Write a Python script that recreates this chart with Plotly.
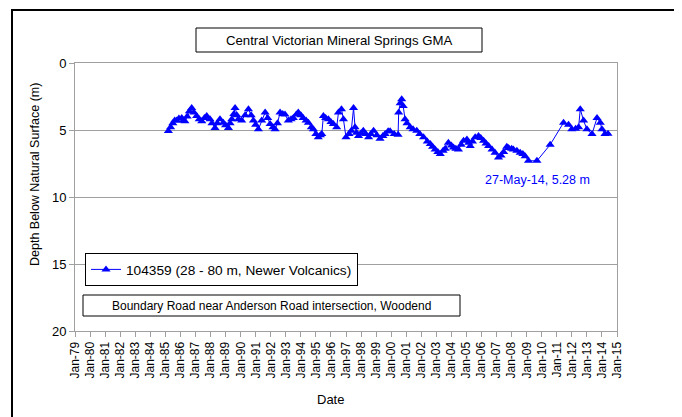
import pandas as pd
import plotly.graph_objects as go

# Decimal-year sample times and depth below natural surface (m)
years = [
    1985.20, 1985.35, 1985.50, 1985.62, 1985.75, 1985.90, 1986.09, 1986.20, 1986.30, 1986.45,
    1986.60, 1986.75, 1986.90, 1987.08, 1987.25, 1987.42, 1987.60, 1987.75, 1987.97, 1988.10,
    1988.30, 1988.45, 1988.63, 1988.85, 1989.00, 1989.19, 1989.30, 1989.41, 1989.55, 1989.63,
    1989.75, 1989.85, 1990.07, 1990.30, 1990.52, 1990.70, 1990.85, 1991.00, 1991.18, 1991.40,
    1991.63, 1991.80, 1991.96, 1992.15, 1992.29, 1992.45, 1992.62, 1992.80, 1992.95, 1993.17,
    1993.35, 1993.50, 1993.70, 1993.83, 1994.00, 1994.15, 1994.35, 1994.50, 1994.70, 1994.83,
    1995.00, 1995.16, 1995.30, 1995.39, 1995.50, 1995.65, 1995.83, 1996.00, 1996.16, 1996.38,
    1996.50, 1996.70, 1996.83, 1997.00, 1997.20, 1997.35, 1997.50, 1997.60, 1997.70, 1997.83,
    1998.00, 1998.15, 1998.30, 1998.50, 1998.65, 1998.83, 1999.05, 1999.26, 1999.45, 1999.60,
    1999.80, 1999.93, 2000.20, 2000.46, 2000.50, 2000.60, 2000.70, 2000.80, 2000.92, 2001.05,
    2001.26, 2001.45, 2001.70, 2001.90, 2002.15, 2002.40, 2002.60, 2002.75, 2002.92, 2003.10,
    2003.26, 2003.45, 2003.59, 2003.80, 2004.00, 2004.14, 2004.30, 2004.47, 2004.65, 2004.81,
    2005.03, 2005.15, 2005.25, 2005.40, 2005.58, 2005.80, 2005.95, 2006.14, 2006.30, 2006.47,
    2006.70, 2006.90, 2007.13, 2007.30, 2007.47, 2007.68, 2007.80, 2008.00, 2008.12, 2008.35,
    2008.57, 2008.75, 2008.90, 2009.12, 2009.68, 2010.56, 2011.45, 2011.78, 2012.00, 2012.25,
    2012.45, 2012.56, 2012.78, 2013.00, 2013.34, 2013.67, 2013.89, 2014.00, 2014.20, 2014.40,
]
depths = [
    5.07, 4.80, 4.50, 4.30, 4.30, 4.15, 4.10, 4.30, 4.35, 4.00,
    3.60, 3.35, 3.70, 3.95, 4.20, 4.35, 4.10, 3.95, 4.20, 4.50,
    4.85, 4.50, 4.20, 4.45, 4.65, 4.85, 4.50, 4.20, 3.80, 3.35,
    3.90, 4.20, 4.30, 3.90, 3.45, 3.90, 4.30, 4.60, 4.95, 4.30,
    3.70, 4.10, 4.55, 4.80, 4.95, 4.50, 3.70, 3.80, 3.85, 4.30,
    4.20, 4.10, 3.85, 3.70, 3.90, 4.10, 4.30, 4.45, 4.80, 4.95,
    5.30, 5.55, 5.40, 5.30, 3.95, 4.10, 4.20, 4.40, 4.55, 4.80,
    3.70, 3.45, 4.20, 5.55, 5.30, 5.05, 3.35, 4.80, 5.20, 5.45,
    5.25, 5.05, 5.30, 5.55, 5.30, 5.05, 5.40, 5.65, 5.45, 5.30,
    5.10, 5.10, 5.30, 5.35, 3.70, 3.00, 2.70, 3.20, 4.20, 4.50,
    4.80, 4.95, 5.05, 5.30, 5.55, 5.85, 6.05, 6.25, 6.45, 6.65,
    6.80, 6.55, 6.40, 5.95, 6.15, 6.30, 6.40, 6.45, 6.10, 5.80,
    5.70, 5.95, 6.20, 5.85, 5.55, 5.45, 5.60, 5.80, 6.00, 6.20,
    6.45, 6.70, 7.05, 6.90, 6.65, 6.25, 6.35, 6.40, 6.45, 6.55,
    6.70, 6.80, 6.95, 7.30, 7.30, 6.10, 4.45, 4.60, 4.95, 4.90,
    4.80, 3.45, 4.30, 4.95, 5.30, 4.10, 4.45, 4.95, 5.30, 5.28,
]

series_name = "104359 (28 - 80 m, Newer Volcanics)"
title_text = "Central Victorian Mineral Springs GMA"
site_text = "Boundary Road near Anderson Road intersection, Woodend"
last_label = "27-May-14, 5.28 m"


def to_date(y):
    yr = int(y)
    return pd.Timestamp(year=yr, month=1, day=1) + pd.Timedelta(days=(y - yr) * 365.25)


dates = [to_date(y) for y in years]

FONT = "Liberation Sans, Arial, sans-serif"
BLUE = "#0000FF"
GRID = "#A0A0A0"

fig = go.Figure()
fig.add_trace(go.Scatter(
    x=dates, y=depths, mode="lines+markers", name=series_name,
    line=dict(color=BLUE, width=1),
    marker=dict(symbol="triangle-up", size=8, color=BLUE),
))

OFF = 8  # page body margin offset
W, H = 682, 417
# plot area in screen pixels (reference)
PL, PR, PT, PB = 75, 617, 63, 331
L = PL - OFF
T = PT - OFF
R = W - (PR - OFF)
B = H - (PB - OFF)
pw, ph = PR - PL, PB - PT


def px(x):
    return (x - PL) / pw


def py(y):
    return (PB - y) / ph


shapes = [
    # outer chart border
    dict(type="rect", xref="paper", yref="paper", x0=px(12), x1=px(676), y0=py(430), y1=py(10),
         line=dict(color="black", width=2), fillcolor="rgba(0,0,0,0)"),
    # title box
    dict(type="rect", xref="paper", yref="paper", x0=px(196), x1=px(482), y0=py(52), y1=py(28),
         line=dict(color="black", width=1), fillcolor="white"),
    # site box
    dict(type="rect", xref="paper", yref="paper", x0=px(83), x1=px(460), y0=py(316), y1=py(295),
         line=dict(color="black", width=1), fillcolor="white"),
]

annotations = [
    dict(text=title_text, xref="paper", yref="paper", x=px(339), y=py(40), showarrow=False,
         font=dict(family=FONT, size=13.2, color="black"), xanchor="center", yanchor="middle"),
    dict(text=site_text, xref="paper", yref="paper", x=px(271), y=py(305.5), showarrow=False,
         font=dict(family=FONT, size=12, color="black"), xanchor="center", yanchor="middle"),
    dict(text=last_label, x=to_date(2009.7), y=8.7, showarrow=False,
         font=dict(family=FONT, size=12.5, color=BLUE), xanchor="center", yanchor="middle"),
    dict(text="Depth Below Natural Surface (m)", xref="paper", yref="paper", x=px(35), y=py(175),
         showarrow=False, textangle=-90, font=dict(family=FONT, size=12.5, color="black"),
         xanchor="center", yanchor="middle"),
    dict(text="Date", xref="paper", yref="paper", x=px(330), y=py(399), showarrow=False,
         font=dict(family=FONT, size=13, color="black"), xanchor="center", yanchor="middle"),
]

fig.update_layout(
    width=W, height=H,
    margin=dict(l=L, r=R, t=T, b=B),
    paper_bgcolor="white", plot_bgcolor="white",
    font=dict(family=FONT, size=11, color="black"),
    shapes=shapes, annotations=annotations,
    showlegend=True,
    legend=dict(x=px(85), y=py(253), xanchor="left", yanchor="top",
                bordercolor="black", borderwidth=1, bgcolor="white",
                font=dict(family=FONT, size=13.7, color="black"),
                itemwidth=30),
)

fig.update_xaxes(
    type="date",
    range=[pd.Timestamp("1979-01-01"), pd.Timestamp("2015-01-01")],
    tickmode="linear", tick0="1979-01-01", dtick="M12", tickformat="%b-%y",
    tickangle=-90, tickfont=dict(family=FONT, size=12, color="black"),
    showgrid=False, showline=True, linecolor=GRID, linewidth=1, mirror=True,
    ticks="outside", ticklen=5, tickcolor=GRID, zeroline=False,
)
fig.update_yaxes(
    range=[20, 0], tickmode="linear", tick0=0, dtick=5,
    tickfont=dict(family=FONT, size=13, color="black"),
    showgrid=True, gridcolor=GRID, gridwidth=1,
    showline=True, linecolor=GRID, linewidth=1, mirror=True,
    ticks="outside", ticklen=5, tickcolor=GRID, zeroline=False,
)

fig.write_html("out.html")
